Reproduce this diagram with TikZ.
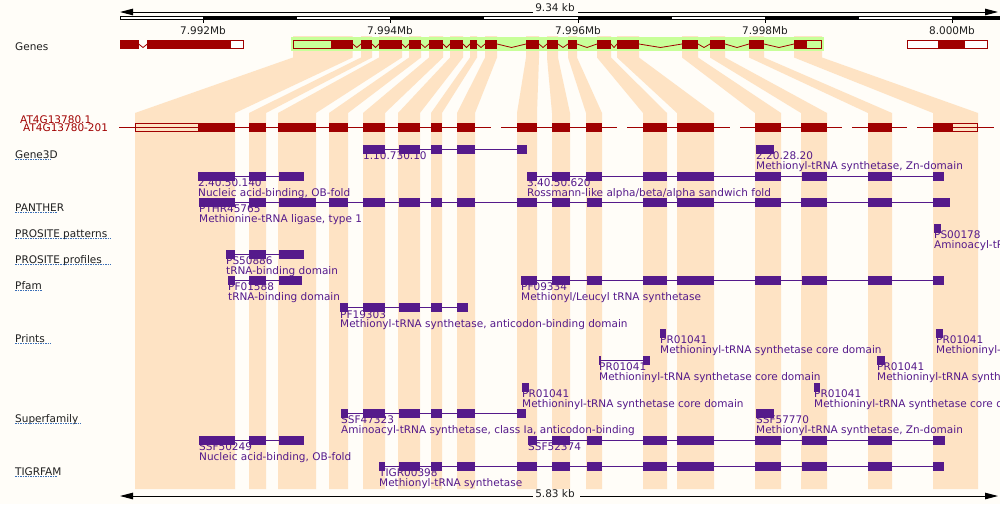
\documentclass[tikz,border=0pt]{standalone}
\usepackage{fontspec}
\setmainfont{DejaVu Sans}
\usetikzlibrary{arrows.meta}
\definecolor{bg}{HTML}{FFFDF8}
\definecolor{peach}{HTML}{FEE3C4}
\definecolor{gband}{HTML}{C8FF99}
\definecolor{gred}{HTML}{A00000}
\definecolor{dpurple}{HTML}{551A8B}
\definecolor{ulblue}{HTML}{3B6FB6}
\tikzset{
  txt/.style={font=\fontsize{10.5pt}{12pt}\selectfont, inner sep=0pt, anchor=base west},
  dlab/.style={txt, text=dpurple},
  tlab/.style={txt, text=black!88},
  rlab/.style={txt, text=gred},
  clab/.style={font=\fontsize{10.5pt}{12pt}\selectfont, inner sep=0pt, anchor=base, text=black!88},
  uline/.style={draw=ulblue, line width=0.9pt, dash pattern=on 1.5pt off 1pt},
  domline/.style={draw=dpurple, line width=1pt},
  tline/.style={draw=gred, line width=1pt},
  intron/.style={draw=gred, line width=0.8pt},
  scl/.style={draw=black, line width=1pt},
  tip/.style={-{Triangle[length=13pt,width=6.5pt]}},
}
\newcommand\dombar[4]{%
  \draw[domline] (#2,#1+4.35) -- (#3,#1+4.35);
  \foreach \a/\b in {#4}{\fill[dpurple] (\a,#1) rectangle (\b,#1+8.7);}%
}
\begin{document}
\begin{tikzpicture}[x=1pt,y=-1pt]
\useasboundingbox (0,0) rectangle (1000,504);
\clip (0,0) rectangle (1000,504);
\fill[bg] (0,0) rectangle (1000,504);

% funnels from gene exons to transcript exons
\foreach \ga/\gb/\ta/\tb in {293/352.7/135/235, 361/372/249/266, 379/402/278/316, 409/421/329/348,
  429/443/363/385, 450/463/398/420, 470/477/431/442, 485/497/457/475, 526/539/517/537,
  547/558/552/570, 568/577/586/602, 597/611/643/667, 617/639/677/714, 682/698/755/781,
  710/725/801/827, 749/764/868/892, 794/822/933/978}{
  \fill[peach] (\ga,36) -- (\gb,36) -- (\gb,57.5) -- (\tb,113) -- (\tb,489) -- (\ta,489) -- (\ta,113) -- (\ga,57.5) -- cycle;
}

% top scale
\draw[scl,tip] (533,12) -- (120,12);
\draw[scl,tip] (578,12) -- (998,12);
\node[clab] (topkb) at (555,11.5) {9.34 kb};
\draw[black, line width=0.8pt, fill=white] (120,16) rectangle (1001,19.3);
\foreach \s in {203,390,578,765,952}{\fill[black] (\s,16) rectangle (\s+94,19.3);}
\foreach \s/\t in {203/7.992Mb,390/7.994Mb,578/7.996Mb,765/7.998Mb,952/8.000Mb}{
  \draw[black, line width=0.8pt] (\s,19.3) -- (\s,22.5);
  \node[clab] (tick\s) at (\s,34) {\t};
}

% Genes track
\node[tlab] (genes) at (15,50.7) {Genes};
% left gene
\fill[gred] (120,40) rectangle (139,48.7);
\draw[intron] (139,44.3) -- (143,47.5) -- (147,44.3);
\fill[gred] (147,40) rectangle (230,48.7);
\draw[gred, line width=1pt, fill=white] (230,40.5) rectangle (243.5,48.2);
% main gene band
\fill[gband] (291,37.3) rectangle (824,50.7);
\draw[gred, line width=1pt] (293.5,40.5) rectangle (331,48.2);
\foreach \a/\b in {331/352.7, 361/372, 379/402, 409/421, 429/443, 450/463, 470/477, 485/497,
  526/539, 547/558, 568/577, 597/611, 617/639, 682/698, 710/725, 749/764, 794/806}{
  \fill[gred] (\a,40) rectangle (\b,48.7);
}
\draw[gred, line width=1pt] (806,40.5) rectangle (821.5,48.2);
\foreach \a/\b in {352.7/361, 372/379, 402/409, 421/429, 443/450, 463/470, 477/485, 497/526,
  539/547, 558/568, 577/597, 611/617, 639/682, 698/710, 725/749, 764/794}{
  \draw[intron] (\a,44) -- ({(\a+\b)/2},47.5) -- (\b,44);
}
% right gene
\draw[gred, line width=1pt, fill=white] (907.5,40.5) rectangle (987,48.2);
\fill[gred] (938,40) rectangle (965,48.7);

% transcript
\node[rlab] (tr1) at (20,123.3) {AT4G13780.1};
\node[rlab] (tr2) at (23,131) {AT4G13780-201};
\foreach \a/\b in {119/491, 501/617, 627/730, 740/842, 852/907, 917/994}{
  \draw[tline] (\a,127.3) -- (\b,127.3);
}
\draw[gred, line width=1pt] (135.5,123.5) rectangle (198.3,131.5);
\foreach \a/\b in {198.3/235, 249/266, 278/316, 329/348, 363/385, 398/420, 431/442, 457/475,
  517/537, 552/570, 586/602, 643/667, 677/714, 755/781, 801/827, 868/892, 933/952}{
  \fill[gred] (\a,123) rectangle (\b,132);
}
\draw[gred, line width=1pt] (952,123.5) rectangle (977.5,131.5);

% track labels
\foreach \n/\t/\y/\u in {g3d/Gene3D/158/51, pan/PANTHER/211/57, psp/PROSITE patterns/237/111,
  psf/PROSITE profiles/263/111, pfm/Pfam/289/42, prt/Prints/342/51, sfm/Superfamily/422/81,
  tig/TIGRFAM/475/57}{
  \node[tlab] (lab\n) at (15,\y) {\t};
  \draw[uline] (15,\y+1.6) -- (\u,\y+1.6);
}

% ---- domain labels (drawn first) ----
\node[dlab] (d1a) at (363,159.7) {1.10.730.10};
\node[dlab] (d2a) at (756,159.7) {2.20.28.20};
\node[dlab] (d2b) at (756,169) {Methionyl-tRNA synthetase, Zn-domain};
\node[dlab] (d3a) at (198,186.7) {2.40.50.140};
\node[dlab] (d3b) at (198,196) {Nucleic acid-binding, OB-fold};
\node[dlab] (d4a) at (527,186.7) {3.40.50.620};
\node[dlab] (d4b) at (527,196) {Rossmann-like alpha/beta/alpha sandwich fold};
\node[dlab] (d5a) at (199,212.7) {PTHR45765};
\node[dlab] (d5b) at (199,222) {Methionine-tRNA ligase, type 1};
\node[dlab] (d6a) at (934,238.7) {PS00178};
\node[dlab] (d6b) at (934,248) {Aminoacyl-tRNA synthetases class-I signature};
\node[dlab] (d7a) at (226,264.7) {PS50886};
\node[dlab] (d7b) at (226,274) {tRNA-binding domain};
\node[dlab] (d8a) at (228,290.7) {PF01588};
\node[dlab] (d8b) at (228,300) {tRNA-binding domain};
\node[dlab] (d9a) at (521,290.7) {PF09334};
\node[dlab] (d9b) at (521,300) {Methionyl/Leucyl tRNA synthetase};
\node[dlab] (d10a) at (340,318) {PF19303};
\node[dlab] (d10b) at (340,327.3) {Methionyl-tRNA synthetase, anticodon-binding domain};
\foreach \n/\x/\T in {p1/660/329, p2/936/329, p3/599/356, p4/877/356, p5/522/383, p6/814/383}{
  \node[dlab] (\n a) at (\x,\T+14.7) {PR01041};
  \node[dlab] (\n b) at (\x,\T+24) {Methioninyl-tRNA synthetase core domain};
}
\node[dlab] (d17a) at (341,423.7) {SSF47323};
\node[dlab] (d17b) at (341,433) {Aminoacyl-tRNA synthetase, class Ia, anticodon-binding};
\node[dlab] (d18a) at (756,423.7) {SSF57770};
\node[dlab] (d18b) at (756,433) {Methionyl-tRNA synthetase, Zn-domain};
\node[dlab] (d19a) at (199,450.7) {SSF50249};
\node[dlab] (d19b) at (199,460) {Nucleic acid-binding, OB-fold};
\node[dlab] (d20a) at (528,450.7) {SSF52374};
\node[dlab] (d21a) at (379,476.7) {TIGR00398};
\node[dlab] (d21b) at (379,486) {Methionyl-tRNA synthetase};

% ---- domain boxes ----
\dombar{145}{363}{527}{363/385, 399/420, 431/442, 457/475, 517/527}
\dombar{145}{756}{774}{756/774}
\dombar{172}{198}{304}{198/235, 249/266, 279/304}
\dombar{172}{527}{944}{527/537, 552/570, 586/602, 643/667, 677/714, 755/781, 802/827, 868/892, 933/944}
\dombar{198}{199}{950}{199/235, 249/266, 279/316, 329/348, 363/385, 399/420, 431/442, 457/475, 517/537, 552/570, 587/602, 643/667, 677/714, 755/781, 801/827, 868/892, 933/950}
\dombar{224}{934}{941}{934/941}
\dombar{250}{226}{304}{226/235, 249/266, 279/304}
\dombar{276}{228}{302}{228/235, 249/266, 279/302}
\dombar{276}{521}{944}{521/537, 552/570, 587/602, 643/667, 677/714, 755/781, 802/827, 868/892, 933/944}
\dombar{303.3}{340}{468}{340/348, 363/385, 399/420, 431/442, 457/468}
\dombar{329}{660}{666}{660/666}
\dombar{329}{936}{943}{936/943}
\dombar{356}{599}{650}{599/601, 643/650}
\dombar{356}{877}{885}{877/885}
\dombar{383}{522}{529}{522/529}
\dombar{383}{814}{820}{814/820}
\dombar{409}{341}{526}{341/348, 363/385, 399/420, 431/442, 457/475, 517/526}
\dombar{409}{756}{774}{756/774}
\dombar{436}{199}{304}{199/235, 249/266, 279/304}
\dombar{436}{528}{945}{528/537, 552/570, 587/602, 643/667, 677/714, 755/781, 802/827, 868/892, 933/945}
\dombar{462}{379}{944}{379/385, 399/420, 431/442, 457/475, 517/537, 552/570, 587/602, 643/667, 677/714, 755/781, 802/827, 868/892, 933/944}

% bottom scale
\draw[scl,tip] (533,496) -- (120,496);
\draw[scl,tip] (580,496) -- (998,496);
\node[clab] (botkb) at (555,497) {5.83 kb};
\end{tikzpicture}
\end{document}
